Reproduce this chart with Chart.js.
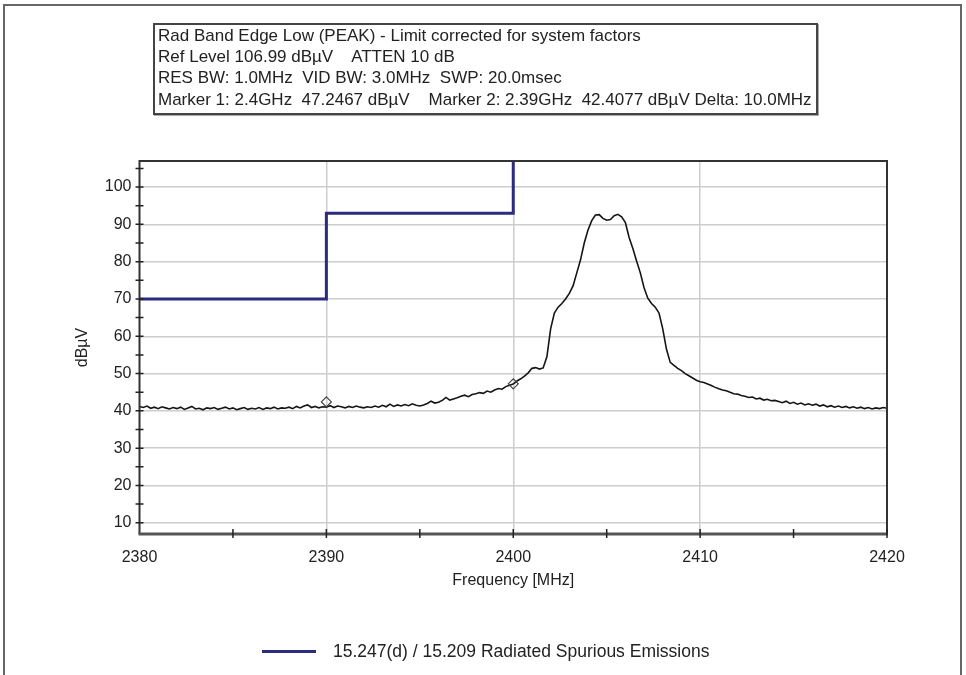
<!DOCTYPE html>
<html><head><meta charset="utf-8">
<script src="https://cdn.jsdelivr.net/npm/chart.js@4.4.1/dist/chart.umd.min.js"></script>
<style>
html,body{margin:0;padding:0;background:#fff;}
#wrap{position:relative;width:966px;height:675px;overflow:hidden;font-family:"Liberation Sans",Arial,sans-serif;background:#fff;}
#frame{position:absolute;left:3px;top:4px;width:959px;height:700px;border:2px solid #666;box-sizing:border-box;}
#c{position:absolute;left:0;top:0;}
#hdr{position:absolute;left:153px;top:23px;width:665px;height:92px;border:2px solid #444;box-sizing:border-box;background:#fff;box-shadow:1px 1px 0 #aaa;}
#hdr div{position:absolute;left:3px;font-size:17px;color:#222;white-space:nowrap;line-height:17px;}
#leg{position:absolute;left:262px;top:641px;height:20px;}
#legline{position:absolute;left:0;top:9px;width:54px;height:3px;background:#2b2b80;}
#legtxt{position:absolute;left:71px;top:1px;font-size:17.5px;line-height:18px;color:#222;white-space:nowrap;}
</style>
</head><body>
<div id="wrap">
<div id="frame"></div>
<canvas id="c" width="966" height="675"></canvas>
<div id="hdr">
<div style="top:2px">Rad Band Edge Low (PEAK) - Limit corrected for system factors</div>
<div style="top:23px">Ref Level 106.99 dBµV&nbsp;&nbsp;&nbsp; ATTEN 10 dB</div>
<div style="top:44px">RES BW: 1.0MHz&nbsp; VID BW: 3.0MHz&nbsp; SWP: 20.0msec</div>
<div style="top:66px">Marker 1: 2.4GHz&nbsp; 47.2467 dBµV&nbsp;&nbsp;&nbsp; Marker 2: 2.39GHz&nbsp; 42.4077 dBµV Delta: 10.0MHz</div>
</div>
<div id="leg"><div id="legline"></div><div id="legtxt">15.247(d) / 15.209 Radiated Spurious Emissions</div></div>
</div>
<script>
// ---- data ----
const sweepStart = 2380;   // MHz
const sweepStep = 0.2;     // MHz per trace point
const traceLevels = [
 41.2,40.9,41.3,40.7,41.0,40.6,41.1,40.8,40.5,40.9,
 40.6,41.0,40.4,40.8,41.2,40.5,40.7,40.3,40.8,40.6,
 40.9,40.4,40.7,41.0,40.5,40.8,40.3,40.6,40.9,40.4,
 40.7,40.5,40.9,40.4,40.8,40.6,41.0,40.5,40.8,40.7,
 41.0,40.6,41.2,40.8,41.3,41.6,40.9,41.2,40.8,41.1,
 41.0,41.4,40.9,41.3,41.1,40.8,41.2,40.9,41.3,41.0,
 40.8,41.1,40.9,41.3,41.0,41.5,41.1,41.8,41.2,41.6,
 41.3,41.7,41.4,41.9,41.5,41.3,41.6,42.0,42.6,42.1,
 42.3,42.8,43.6,42.9,43.2,43.5,43.9,44.2,43.8,44.4,
 44.6,44.9,44.7,45.3,45.0,45.6,46.0,45.8,46.5,46.9,
 47.2,48.0,48.6,49.3,50.2,51.4,51.6,51.2,51.5,54.5,
 62.0,66.2,67.8,68.8,70.0,71.5,73.5,77.0,80.5,85.0,
 88.5,91.0,92.5,92.6,91.6,91.1,91.3,92.3,92.7,92.0,
 90.5,86.5,83.5,80.2,77.0,73.0,70.2,68.8,67.8,66.2,
 62.0,56.5,53.0,52.2,51.4,50.8,50.0,49.4,48.8,48.2,
 47.8,47.6,47.2,46.8,46.3,45.9,45.6,45.4,45.0,44.6,
 44.5,44.1,43.9,43.6,43.7,43.2,43.4,42.9,43.1,42.7,
 42.8,42.5,42.2,42.6,42.0,42.3,41.8,42.1,41.6,41.9,
 41.5,41.8,41.3,41.6,41.1,41.4,41.0,41.3,40.9,41.2,
 40.8,41.1,40.7,41.0,40.6,40.9,40.5,40.8,40.6,40.9,
 40.7
];
const limitFreq  = [2380, 2390, 2390, 2400, 2400];
const limitLevel = [70, 70, 93, 93, 106.99];
const markerFreq  = [2390, 2400];
const markerLevel = [42.4077, 47.2467];
const xTicks = [2380, 2390, 2400, 2410, 2420];
const yTicks = [10, 20, 30, 40, 50, 60, 70, 80, 90, 100];
const xMin = 2380, xMax = 2420, yMin = 6.99, yMax = 106.99;
const limitLabel = '15.247(d) / 15.209 Radiated Spurious Emissions';

// ---- build ----
const tracePts = traceLevels.map((v, i) => ({x: +(sweepStart + i * sweepStep).toFixed(2), y: v}));
const limitPts = limitFreq.map((f, i) => ({x: f, y: limitLevel[i]}));
const markerPts = markerFreq.map((f, i) => ({x: f, y: markerLevel[i]}));
const FONT = '"Liberation Sans", Arial, sans-serif';

const frameAxes = {
  id: 'frameAxes',
  afterDatasetsDraw(chart) {
    const {ctx, chartArea: a, scales} = chart;
    ctx.save();
    ctx.strokeStyle = '#333';
    ctx.lineWidth = 2;
    ctx.beginPath();
    ctx.moveTo(a.left, a.bottom); ctx.lineTo(a.left, a.top); ctx.lineTo(a.right, a.top); ctx.lineTo(a.right, a.bottom);
    ctx.stroke();
    ctx.strokeStyle = '#555';
    ctx.lineWidth = 3;
    ctx.beginPath(); ctx.moveTo(a.left - 1, a.bottom); ctx.lineTo(a.right + 1, a.bottom); ctx.stroke();
    ctx.strokeStyle = '#222';
    ctx.lineWidth = 1.5;
    ctx.beginPath();
    for (let f = xMin + 5; f <= xMax; f += 5) {
      const x = scales.x.getPixelForValue(f);
      ctx.moveTo(x, a.bottom - 5); ctx.lineTo(x, a.bottom + 4);
    }
    for (let v = 10; v <= 105; v += 5) {
      const y = scales.y.getPixelForValue(v);
      ctx.moveTo(a.left - 4, y); ctx.lineTo(a.left + 4, y);
    }
    ctx.stroke();
    ctx.restore();
  }
};

new Chart(document.getElementById('c'), {
  type: 'line',
  data: {
    datasets: [
      {label: 'trace', data: tracePts, borderColor: '#151515', borderWidth: 1.6, pointRadius: 0, tension: 0, order: 2},
      {label: limitLabel, data: limitPts, borderColor: '#2b2b80', borderWidth: 3, pointRadius: 0, tension: 0, order: 1},
      {label: 'markers', data: markerPts, showLine: false, pointStyle: 'rectRot', pointRadius: 5,
       pointBackgroundColor: 'rgba(0,0,0,0)', pointBorderColor: '#444', pointBorderWidth: 1.2, order: 0}
    ]
  },
  options: {
    responsive: false,
    animation: false,
    devicePixelRatio: 1,
    layout: {padding: {left: 0, right: 79, top: 161, bottom: 0}},
    plugins: {legend: {display: false}, tooltip: {enabled: false}},
    scales: {
      x: {
        type: 'linear', min: xMin, max: xMax,
        afterFit(s) { s.height = 141; },
        afterBuildTicks(s) { s.ticks = xTicks.map(v => ({value: v})); },
        grid: {drawTicks: false, lineWidth: 1.5,
               color: c => (c.tick && (c.tick.value === xMin || c.tick.value === xMax)) ? 'rgba(0,0,0,0)' : '#cdcdcd'},
        border: {display: false},
        ticks: {padding: 14, color: '#222', font: {family: FONT, size: 16}, maxRotation: 0, callback: v => String(v)},
        title: {display: true, text: 'Frequency [MHz]', color: '#222', font: {family: FONT, size: 16}, padding: {top: 0, bottom: 85}}
      },
      y: {
        type: 'linear', min: yMin, max: yMax,
        afterFit(s) { s.width = 139.5; },
        afterBuildTicks(s) { s.ticks = yTicks.map(v => ({value: v})); },
        grid: {drawTicks: false, lineWidth: 1.5, color: '#cdcdcd'},
        border: {display: false},
        ticks: {padding: 8, color: '#222', font: {family: FONT, size: 16}, callback: v => String(v)},
        title: {display: true, text: 'dBµV', color: '#222', font: {family: FONT, size: 16}, padding: {top: 73, bottom: 0}}
      }
    }
  },
  plugins: [frameAxes]
});
</script>
</body></html>
